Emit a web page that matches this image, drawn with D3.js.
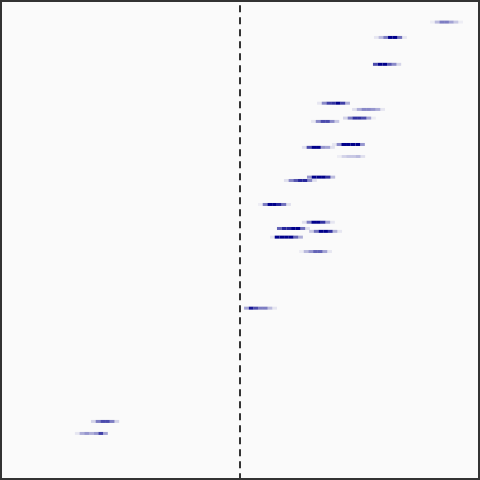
<!DOCTYPE html>
<html><head><meta charset="utf-8">
<script src="https://cdn.jsdelivr.net/npm/d3@7"></script>
<style>html,body{margin:0;padding:0;background:#fff}svg{display:block}</style>
</head><body>
<script>
// Row centre estimates (y, 0 = bottom, 1 = top)
const rowY = [0.954,0.922,0.866,0.785,0.772,0.754,0.747,0.699,0.693,0.674,0.631,0.624,0.574,0.537,0.524,0.518,0.506,0.476,0.358,0.122,0.097];
// Start of first bin for each row (x, domain -1..1)
const rowStart = [0.792,0.558,0.554,0.321,0.467,0.429,0.296,0.383,0.258,0.404,0.279,0.183,0.075,0.258,0.154,0.288,0.125,0.246,0.017,-0.621,-0.688];
// Density of each bin along the row
const rowDensity = [
  [0.05,0.25,0.5,0.5,0.35,0.2,0.05],
  [0.08,0.25,0.5,1,1,0.55,0.08],
  [0.7,1,1,0.65,0.45,0.15],
  [0.08,0.45,0.75,0.8,1,0.75,0.3],
  [0.1,0.3,0.45,0.45,0.4,0.3,0.08],
  [0.15,0.5,0.8,0.8,0.7,0.35,0.05],
  [0.08,0.45,0.7,0.7,0.45,0.2],
  [0.08,0.45,1,1,1,1,0.4],
  [0.1,0.7,1,1,0.4,0.35,0.1],
  [0.05,0.15,0.2,0.2,0.25,0.1],
  [0.4,1,1,1,0.8,0.25],
  [0.1,0.45,0.65,0.85,0.85,0.45,0.1],
  [0.05,0.5,1,1,0.85,0.55,0.1],
  [0.1,0.5,1,1,0.8,0.35,0.08],
  [0.6,0.85,0.85,1,1,0.55,0.1],
  [0.2,0.55,1,1,0.8,0.3,0.08],
  [0.08,1,1,1,1,0.6,0.3],
  [0.05,0.25,0.4,0.6,0.6,0.35,0.08],
  [0.35,0.9,0.7,0.5,0.5,0.25,0.08],
  [0.15,0.5,0.7,0.7,0.5,0.15],
  [0.08,0.3,0.4,0.3,0.4,0.75,0.35]
];
const binWidth = 0.0196;
const refLine = 0;

const W = 480, H = 480;
const svg = d3.select("body").append("svg").attr("width", W).attr("height", H);
svg.append("rect").attr("x",0).attr("y",0).attr("width",W).attr("height",H).attr("fill","#fafafa");

const x = d3.scaleLinear().domain([-1, 1]).range([0, W]);
const y = d3.scaleLinear().domain([0, 1]).range([H, 0]);

const cells = [];
rowY.forEach((ry, i) => {
  rowDensity[i].forEach((d, j) => {
    cells.push({x0: rowStart[i] + j * binWidth, y: ry, d});
  });
});

svg.append("g").selectAll("rect").data(cells).join("rect")
  .attr("x", c => x(c.x0))
  .attr("width", c => x(c.x0 + binWidth) - x(c.x0))
  .attr("y", c => y(c.y) - 1.5)
  .attr("height", 3)
  .attr("fill", "#00008b")
  .attr("fill-opacity", c => c.d);

svg.append("line")
  .attr("x1", x(refLine)).attr("x2", x(refLine))
  .attr("y1", 0).attr("y2", H)
  .attr("stroke", "#333").attr("stroke-width", 2)
  .attr("stroke-dasharray", "7,5").attr("stroke-dashoffset", 6.7);

svg.append("rect").attr("x",1).attr("y",1).attr("width",W-2).attr("height",H-2)
  .attr("fill","none").attr("stroke","#333").attr("stroke-width",2);
</script>
</body></html>
